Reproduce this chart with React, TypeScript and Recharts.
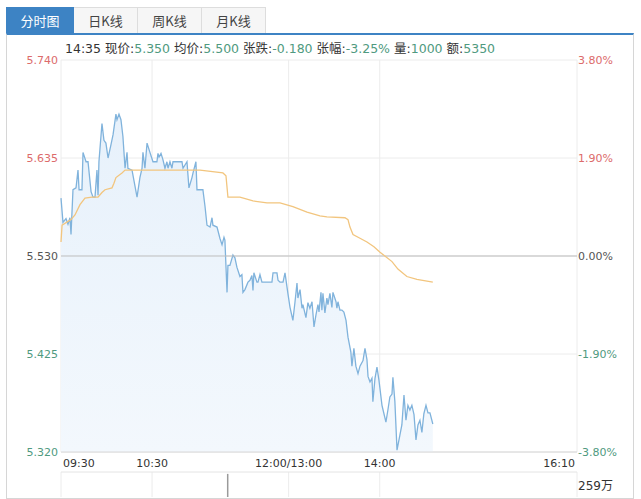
import { ComposedChart, Area, Line, Bar, XAxis, YAxis, CartesianGrid, ReferenceLine } from 'recharts'

// minutes since 09:30, lunch break skipped (12:00 -> 150, 16:10 -> 340)
const timeTicks = [0, 60, 150, 210, 340]
const timeLabels = ['09:30', '10:30', '12:00/13:00', '14:00', '16:10']

const prevClose = 5.53
const priceTicks = [5.32, 5.425, 5.53, 5.635, 5.74]
const pctTicks = [-3.8, -1.9, 0, 1.9, 3.8]

const priceTime = [
    0, 1.3, 3.3, 4.6, 5.9, 6.6, 7.9, 9.9, 11.2, 11.9,
    13.8, 14.5, 16.5, 17.8, 19.8, 21.1, 22.4, 23.7, 24.4, 25.0,
    27.0, 28.3, 29.6, 31.0, 32.9, 34.3, 36.2, 36.9, 38.2, 39.5,
    40.8, 42.2, 43.5, 44.1, 46.8, 50.1, 52.0, 53.4, 54.0, 55.3,
    56.7, 58.6, 60.6, 63.2, 63.9, 64.6, 65.9, 67.2, 68.5, 69.8,
    70.5, 71.8, 73.1, 73.8, 79.7, 80.4, 83.0, 84.3, 86.3, 87.0,
    88.9, 89.6, 93.5, 94.9, 96.2, 98.2, 99.5, 100.1, 102.8, 104.7,
    106.1, 107.4, 108.0, 109.4, 110.0, 111.3, 113.3, 114.6, 115.9, 117.9,
    119.2, 119.9, 121.2, 123.2, 124.5, 125.8, 126.5, 127.1, 129.1, 129.8,
    131.1, 132.4, 139.0, 139.7, 142.3, 143.0, 144.3, 146.3, 147.6, 148.9,
    149.5, 150.9, 152.8, 154.2, 155.5, 156.1, 157.5, 158.8, 159.4, 161.4,
    162.7, 164.0, 165.4, 166.7, 168.0, 169.3, 170.0, 171.3, 171.9, 172.6,
    173.9, 175.2, 175.9, 177.2, 178.5, 179.2, 181.2, 181.8, 182.5, 183.8,
    185.1, 186.4, 187.8, 189.1, 191.0, 191.7, 193.0, 194.3, 195.7, 197.0,
    199.0, 200.3, 201.6, 202.3, 203.6, 204.9, 205.5, 206.9, 208.2, 209.5,
    211.5, 212.8, 214.1, 215.4, 216.7, 218.1, 218.7, 220.0, 221.4, 223.3,
    224.6, 226.0, 227.3, 228.6, 229.9, 231.2, 232.6, 233.9, 235.2, 236.5,
    237.8, 239.1, 240.5, 241.8, 243.1, 245,
]
const priceValue = [
    5.592, 5.566, 5.570, 5.564, 5.571, 5.553, 5.601, 5.603, 5.622, 5.601,
    5.601, 5.641, 5.631, 5.631, 5.599, 5.593, 5.593, 5.622, 5.595, 5.631,
    5.672, 5.654, 5.651, 5.635, 5.649, 5.660, 5.682, 5.676, 5.682, 5.676,
    5.658, 5.624, 5.641, 5.624, 5.622, 5.593, 5.614, 5.624, 5.641, 5.624,
    5.651, 5.641, 5.631, 5.631, 5.640, 5.636, 5.640, 5.633, 5.624, 5.631,
    5.624, 5.631, 5.624, 5.631, 5.631, 5.624, 5.631, 5.603, 5.614, 5.619,
    5.631, 5.601, 5.601, 5.583, 5.563, 5.561, 5.571, 5.563, 5.561, 5.549,
    5.542, 5.550, 5.547, 5.491, 5.520, 5.520, 5.531, 5.528, 5.518, 5.508,
    5.510, 5.491, 5.494, 5.502, 5.504, 5.509, 5.493, 5.512, 5.502, 5.502,
    5.510, 5.502, 5.502, 5.512, 5.512, 5.504, 5.502, 5.502, 5.512, 5.497,
    5.490, 5.475, 5.461, 5.481, 5.501, 5.485, 5.494, 5.474, 5.478, 5.464,
    5.480, 5.474, 5.481, 5.454, 5.467, 5.478, 5.470, 5.491, 5.472, 5.490,
    5.469, 5.485, 5.478, 5.490, 5.475, 5.491, 5.481, 5.474, 5.481, 5.472,
    5.472, 5.470, 5.461, 5.443, 5.427, 5.412, 5.431, 5.412, 5.404, 5.412,
    5.418, 5.431, 5.419, 5.401, 5.395, 5.399, 5.374, 5.399, 5.411, 5.397,
    5.370, 5.361, 5.352, 5.365, 5.379, 5.382, 5.400, 5.374, 5.322, 5.338,
    5.349, 5.381, 5.354, 5.370, 5.365, 5.370, 5.360, 5.333, 5.349, 5.354,
    5.341, 5.361, 5.370, 5.362, 5.362, 5.350,
]

const avgTime = [
    0, 0.7, 6.6, 9.2, 12.5, 15.8, 20.4, 24.4, 27.0, 29.0,
    33.6, 34.9, 36.2, 40.2, 42.2, 91.6, 106.7, 108.7, 110.0, 117.9,
    126.5, 135.7, 144.3, 152.8, 162.1, 170.6, 175.2, 187.1, 189.1, 190.4,
    192.4, 197.0, 201.6, 206.2, 210.2, 213.4, 218.1, 222.0, 227.9, 234.5,
    245,
]
const avgValue = [
    5.545, 5.563, 5.569, 5.574, 5.585, 5.592, 5.593, 5.593, 5.598, 5.601,
    5.603, 5.608, 5.614, 5.619, 5.622, 5.622, 5.619, 5.616, 5.593, 5.593,
    5.589, 5.587, 5.587, 5.583, 5.577, 5.573, 5.572, 5.571, 5.569, 5.561,
    5.553, 5.549, 5.545, 5.540, 5.534, 5.530, 5.524, 5.516, 5.508, 5.505,
    5.502,
]

// volume in 万
const volumeTime = [110]
const volumeValue = [259]
const volumeMaxLabel = '259万'

const tabs = ['分时图', '日K线', '周K线', '月K线']
const quoteTime = '14:35'
const quoteLabels = ['现价', '均价', '张跌', '张幅', '量', '额']
const quoteValues = ['5.350', '5.500', '-0.180', '-3.25%', '1000', '5350']

const RED = '#dc6b6b'
const GREEN = '#4f9a80'
const GRAY = '#555'
const FONT = '"DejaVu Sans", "Noto Sans CJK SC", sans-serif'

const priceData = priceTime.map((m, i) => ({ m, price: priceValue[i] }))
const avgData = avgTime.map((m, i) => ({ m, avg: avgValue[i] }))
const volumeData = volumeTime.map((m, i) => ({ m, vol: volumeValue[i] }))

function colorFor(diff: number) {
    if (diff > 1e-9) return RED
    if (diff < -1e-9) return GREEN
    return GRAY
}

const LeftTick = (props: any) => {
    const { x, y, payload } = props
    const v = payload.value
    return (
        <text x={x} y={y} dy={4} textAnchor="end" fontSize={11} fontFamily={FONT} fill={colorFor(v - prevClose)}>
            {v.toFixed(3)}
        </text>
    )
}

const RightTick = (props: any) => {
    const { x, y, payload } = props
    const v = payload.value
    return (
        <text x={x} y={y} dy={4} textAnchor="start" fontSize={11} fontFamily={FONT} fill={colorFor(v)}>
            {v.toFixed(2) + '%'}
        </text>
    )
}

const TimeTick = (props: any) => {
    const { x, y, payload } = props
    const i = timeTicks.indexOf(payload.value)
    let anchor = 'middle'
    let dx = 0
    if (i === 0) { anchor = 'start'; dx = 2 }
    if (i === timeTicks.length - 1) { anchor = 'end'; dx = -2 }
    return (
        <text x={x + dx} y={y} dy={15} textAnchor={anchor} fontSize={11} fontFamily={FONT} fill="#333">
            {timeLabels[i]}
        </text>
    )
}

export default function App() {
    return (
        <div style={{ position: 'absolute', left: 0, top: 0, width: 641, height: 499, background: '#fff', fontFamily: FONT, overflow: 'hidden' }}>
            {/* tabs */}
            <div style={{ position: 'absolute', left: 6, top: 7, height: 27, display: 'flex' }}>
                {tabs.map((t, i) => (
                    <div
                        key={t}
                        style={{
                            width: i === 0 ? 66 : 63,
                            height: 26,
                            lineHeight: '26px',
                            textAlign: 'center',
                            fontSize: 13,
                            fontFamily: '"Noto Sans CJK SC", sans-serif',
                            color: i === 0 ? '#fff' : '#444',
                            background: i === 0 ? '#3d83c4' : '#f6f6f6',
                            border: i === 0 ? '1px solid #3d83c4' : '1px solid #ddd',
                            borderLeft: i === 0 ? '1px solid #3d83c4' : 'none',
                        }}
                    >
                        {t}
                    </div>
                ))}
            </div>
            {/* frame */}
            <div style={{ position: 'absolute', left: 6, top: 33, width: 626, height: 463, borderTop: '2px solid #3d83c4', borderLeft: '1px solid #d6d6d6', borderRight: '1px solid #d6d6d6', borderBottom: '1px solid #d6d6d6' }} />
            {/* quote line */}
            <div style={{ position: 'absolute', left: 65, top: 38, fontSize: 12.5, color: '#333', whiteSpace: 'nowrap', fontFamily: '"DejaVu Sans", "Noto Sans CJK SC", sans-serif' }}>
                {quoteTime + ' '}
                {quoteLabels.map((l, i) => (
                    <span key={l}>
                        <span style={{ fontFamily: '"Noto Sans CJK SC", sans-serif' }}>{l}</span>:
                        <span style={{ color: GREEN }}>{quoteValues[i]}</span>
                        {i < quoteLabels.length - 1 ? ' ' : ''}
                    </span>
                ))}
            </div>

            <div style={{ position: 'absolute', left: 0, top: 0 }}>
                <ComposedChart width={641} height={470} margin={{ top: 60, right: 0, bottom: 0, left: 0 }}>
                    <defs>
                        <linearGradient id="priceFill" x1="0" y1="0" x2="0" y2="1">
                            <stop offset="0%" stopColor="#e7f1fb" stopOpacity={1} />
                            <stop offset="100%" stopColor="#f3f8fd" stopOpacity={1} />
                        </linearGradient>
                    </defs>
                    <CartesianGrid yAxisId="price" stroke="#ececec" />
                    <XAxis
                        dataKey="m"
                        type="number"
                        domain={[0, 340]}
                        ticks={timeTicks}
                        interval={0}
                        height={18}
                        tickSize={0}
                        tickMargin={0}
                        axisLine={{ stroke: '#d8d8d8' }}
                        tickLine={false}
                        tick={<TimeTick />}
                    />
                    <YAxis
                        yAxisId="price"
                        orientation="left"
                        type="number"
                        domain={[5.32, 5.74]}
                        ticks={priceTicks}
                        interval={0}
                        width={61}
                        tickSize={0}
                        tickMargin={3}
                        axisLine={false}
                        tickLine={false}
                        tick={<LeftTick />}
                        allowDataOverflow
                    />
                    <YAxis
                        yAxisId="pct"
                        orientation="right"
                        type="number"
                        domain={[-3.8, 3.8]}
                        ticks={pctTicks}
                        interval={0}
                        width={64}
                        tickSize={0}
                        tickMargin={1}
                        axisLine={false}
                        tickLine={false}
                        tick={<RightTick />}
                        allowDataOverflow
                    />
                    <ReferenceLine yAxisId="price" y={prevClose} stroke="#bdbdbd" />
                    <Area
                        yAxisId="price"
                        data={priceData}
                        dataKey="price"
                        type="linear"
                        stroke="#80b3dc"
                        strokeWidth={1.3}
                        fill="url(#priceFill)"
                        fillOpacity={1}
                        dot={false}
                        activeDot={false}
                        isAnimationActive={false}
                    />
                    <Line
                        yAxisId="price"
                        data={avgData}
                        dataKey="avg"
                        type="linear"
                        stroke="#f2c57e"
                        strokeWidth={1.3}
                        dot={false}
                        activeDot={false}
                        isAnimationActive={false}
                    />
                </ComposedChart>
            </div>

            {/* volume panel */}
            <div style={{ position: 'absolute', left: 0, top: 470 }}>
                <ComposedChart width={641} height={28} data={volumeData} margin={{ top: 2, right: 64, bottom: 1, left: 61 }}>
                    <CartesianGrid stroke="#ececec" horizontal={false} />
                    <XAxis dataKey="m" type="number" domain={[0, 340]} ticks={timeTicks} interval={0} hide />
                    <YAxis type="number" domain={[0, 280]} hide />
                    <ReferenceLine y={280} stroke="#e4e4e4" />
                    <Bar dataKey="vol" fill="#9a9a9a" barSize={1.5} isAnimationActive={false} />
                </ComposedChart>
            </div>
            <div style={{ position: 'absolute', left: 578, top: 476, fontSize: 12, color: '#333', fontFamily: '"DejaVu Sans", "Noto Sans CJK SC", sans-serif' }}>
                {volumeMaxLabel}
            </div>
        </div>
    )
}
